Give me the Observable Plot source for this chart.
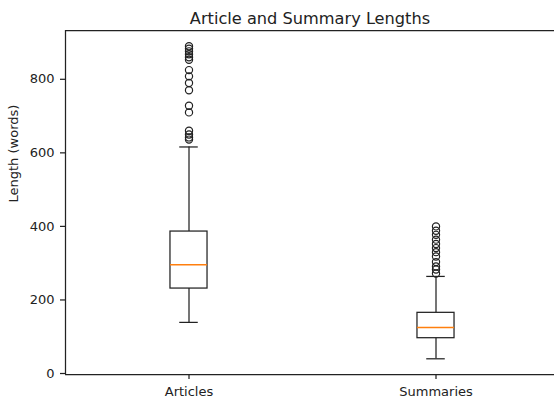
<!DOCTYPE html>
<html>
<head>
<meta charset="utf-8">
<script src="https://cdn.jsdelivr.net/npm/d3@7"></script>
<script src="https://cdn.jsdelivr.net/npm/@observablehq/plot@0.6"></script>
<style>
  html, body { margin: 0; padding: 0; background: #fff; overflow: hidden; }
  #chart { width: 554px; height: 399px; overflow: hidden; }
</style>
</head>
<body>
<div id="chart"></div>
<script>
// ---- data ----
const categories = ["Articles", "Summaries"];
const positions = [1, 2];
const q1 = [231, 96];
const medians = [296, 125];
const q3 = [386, 165];
const whiskerLow = [139, 40];
const whiskerHigh = [616, 264];
const articleOutliers = [890, 883, 876, 868, 860, 853, 825, 808, 790, 770, 728, 710, 660, 650, 642, 636];
const summaryOutliers = [400, 388, 377, 364, 352, 341, 330, 318, 303, 291, 283, 272];
const yTicks = [0, 200, 400, 600, 800];
const title = "Article and Summary Lengths";
const yLabel = "Length (words)";
const yLimits = [-2.7, 932.7];
const xLimits = [0.5, 2.5];

// ---- derived tables ----
const boxes = categories.map((c, i) => ({
  cat: c, pos: positions[i], q1: q1[i], med: medians[i], q3: q3[i],
  lo: whiskerLow[i], hi: whiskerHigh[i]
}));
const outliers = [
  ...articleOutliers.map(v => ({pos: positions[0], v})),
  ...summaryOutliers.map(v => ({pos: positions[1], v}))
];
const boxHalf = 0.075;
const capHalf = 0.0375;
const font = "DejaVu Sans, sans-serif";
const lw = 1.25;
const ink = "#222";

const chart = Plot.plot({
  width: 554,
  height: 399,
  marginLeft: 65,
  marginRight: 0,
  marginTop: 30,
  marginBottom: 25,
  style: {fontFamily: font, color: ink, background: "white", overflow: "hidden"},
  x: {type: "linear", domain: xLimits, range: [65, 559]},
  y: {domain: yLimits},
  marks: [
    // spines
    Plot.ruleX([xLimits[0]], {stroke: ink, strokeWidth: lw}),
    Plot.ruleY([yLimits[0], yLimits[1]], {stroke: ink, strokeWidth: lw}),
    // whiskers
    Plot.ruleX(boxes, {x: "pos", y1: "lo", y2: "q1", stroke: ink, strokeWidth: lw}),
    Plot.ruleX(boxes, {x: "pos", y1: "q3", y2: "hi", stroke: ink, strokeWidth: lw}),
    Plot.ruleY(boxes, {y: "lo", x1: d => d.pos - capHalf, x2: d => d.pos + capHalf, stroke: ink, strokeWidth: lw}),
    Plot.ruleY(boxes, {y: "hi", x1: d => d.pos - capHalf, x2: d => d.pos + capHalf, stroke: ink, strokeWidth: lw}),
    // boxes
    Plot.rect(boxes, {x1: d => d.pos - boxHalf, x2: d => d.pos + boxHalf, y1: "q1", y2: "q3", fill: "none", stroke: ink, strokeWidth: lw}),
    // medians
    Plot.ruleY(boxes, {y: "med", x1: d => d.pos - boxHalf, x2: d => d.pos + boxHalf, stroke: "#ff7f0e", strokeWidth: 1.5}),
    // outliers
    Plot.dot(outliers, {x: "pos", y: "v", r: 3.6, stroke: ink, fill: "none", strokeWidth: 1.2}),
    // axes
    Plot.axisY({ticks: yTicks, tickSize: 5, tickPadding: 6, fontSize: 13, label: null, strokeWidth: lw}),
    Plot.axisX({ticks: positions, tickFormat: d => categories[positions.indexOf(d)], tickSize: 5, tickPadding: 7, fontSize: 13, label: null, strokeWidth: lw}),
    // labels
    Plot.text([title], {frameAnchor: "top", text: d => d, lineAnchor: "bottom", dy: -7, fontSize: 16.2, fill: ink}),
    Plot.text([yLabel], {frameAnchor: "left", text: d => d, rotate: -90, dx: -52, fontSize: 13, fill: ink})
  ]
});
document.getElementById("chart").appendChild(chart);
</script>
</body>
</html>
